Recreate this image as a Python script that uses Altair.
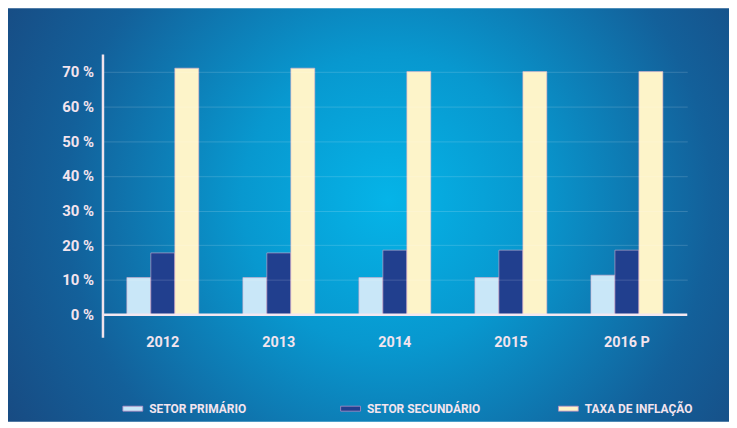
import altair as alt
import pandas as pd

anos = ["2012", "2013", "2014", "2015", "2016 P"]
series = ["SETOR PRIMÁRIO", "SETOR SECUNDÁRIO", "TAXA DE INFLAÇÃO"]
primario = [10.7, 10.7, 10.7, 10.7, 11.4]
secundario = [17.8, 17.8, 18.6, 18.6, 18.6]
inflacao = [71.0, 71.0, 70.0, 70.0, 70.0]
y_ticks = [0, 10, 20, 30, 40, 50, 60, 70]
cores = ["#c9e7f8", "#213f8e", "#fdf4c9"]

rows = []
for i, a in enumerate(anos):
    for s, vals in zip(series, [primario, secundario, inflacao]):
        rows.append({"ano": a, "serie": s, "valor": vals[i]})
df = pd.DataFrame(rows)

FONT = "Roboto"
TXT = "#f3e4ee"

bg = alt.Chart(pd.DataFrame({"k": [0]})).mark_rect(
    color=alt.Gradient(
        gradient="radial",
        x1=0.53, y1=0.48, r1=0.0,
        x2=0.53, y2=0.48, r2=0.72,
        stops=[
            alt.GradientStop(offset=0.0, color="#05b4e8"),
            alt.GradientStop(offset=0.28, color="#0898cf"),
            alt.GradientStop(offset=0.62, color="#13609a"),
            alt.GradientStop(offset=1.0, color="#1b3c72"),
        ],
    ),
    clip=False,
).encode(
    x=alt.value(-99), x2=alt.value(630),
    y=alt.value(-46), y2=alt.value(370),
)

bars = alt.Chart(df).mark_bar(stroke="#d7a9c9", strokeWidth=0.6).encode(
    x=alt.X("ano:N", sort=anos,
            scale=alt.Scale(paddingInner=0.38, paddingOuter=0.21),
            axis=alt.Axis(title=None, labelAngle=0, ticks=False, domain=False,
                          labelPadding=-2, labelColor=TXT, labelFont=FONT,
                          labelFontSize=14.5, labelFontWeight="bold", grid=False,
                          zindex=1)),
    xOffset=alt.XOffset("serie:N", sort=series,
                        scale=alt.Scale(paddingInner=0, paddingOuter=0)),
    y=alt.Y("valor:Q",
            scale=alt.Scale(domain=[-6.5, 75.1], nice=False, zero=False),
            axis=alt.Axis(title=None, values=y_ticks, labelExpr="datum.value + ' %'",
                          ticks=False, domainColor="#f1e3ec", domainWidth=2.5,
                          labelPadding=9, labelColor=TXT, labelFont=FONT,
                          labelFontSize=15, labelFontWeight="bold",
                          grid=True, gridColor="#ffffff", gridOpacity=0.16,
                          gridWidth=1, zindex=1)),
    y2=alt.datum(0),
    color=alt.Color("serie:N", sort=series,
                    scale=alt.Scale(domain=series, range=cores),
                    legend=alt.Legend(
                        title=None, orient="none", legendX=20, legendY=346,
                        direction="horizontal", columns=3, gridAlign="all",
                        columnPadding=75,
                        symbolType="M-1,-0.25H1V0.25H-1Z", symbolSize=400,
                        symbolStrokeColor="#b48ac2", symbolStrokeWidth=0.8,
                        symbolOpacity=1,
                        labelColor=TXT, labelFont=FONT, labelFontSize=12,
                        labelFontWeight="bold", labelOffset=6)),
)

base = alt.Chart(pd.DataFrame({"z": [0]})).mark_rule(
    color="#f3e6ef", strokeWidth=2.5
).encode(y=alt.datum(0))

chart = alt.layer(bg, bars, base).properties(
    width=588, height=285,
    padding={"left": 95, "top": 45, "right": 42, "bottom": 85},
    autosize=alt.AutoSizeParams(type="none"),
    background="white",
).configure_view(stroke=None)

chart.save("out.html", embed_options={"renderer": "svg", "actions": False})
